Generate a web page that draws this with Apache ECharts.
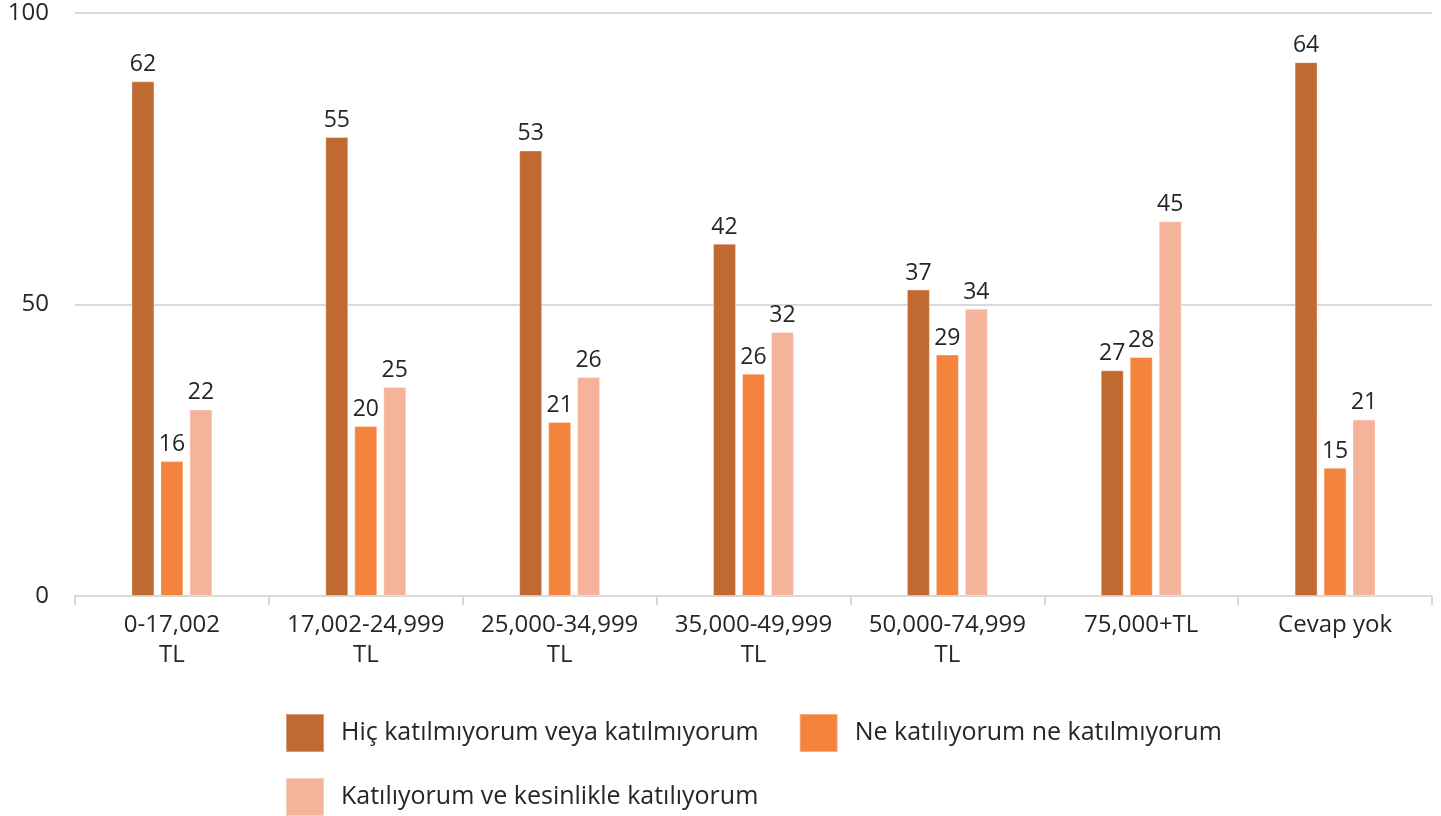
<!DOCTYPE html>
<html>
<head>
<meta charset="utf-8">
<script src="https://cdn.jsdelivr.net/npm/echarts@6/dist/echarts.min.js"></script>
<style>
  html, body { margin: 0; padding: 0; background: #fff; }
  #chart { width: 1441px; height: 816px; }
</style>
</head>
<body>
<div id="chart"></div>
<script>
const categories = ["0-17,002\nTL", "17,002-24,999\nTL", "25,000-34,999\nTL", "35,000-49,999\nTL", "50,000-74,999\nTL", "75,000+TL", "Cevap yok"];
const seriesNames = ["Hiç katılmıyorum veya katılmıyorum", "Ne katılıyorum ne katılmıyorum", "Katılıyorum ve kesinlikle katılıyorum"];

// bar heights as measured in the picture
const disagree = [61.8, 55.1, 53.5, 42.3, 36.8, 27.1, 64.1];
const neutral = [16.2, 20.4, 20.9, 26.7, 29.0, 28.7, 15.4];
const agree = [22.4, 25.1, 26.3, 31.7, 34.5, 45.0, 21.2];

// numbers printed above the bars
const disagreeLabels = [62, 55, 53, 42, 37, 27, 64];
const neutralLabels = [16, 20, 21, 26, 29, 28, 15];
const agreeLabels = [22, 25, 26, 32, 34, 45, 21];

const colors = ["#C06A31", "#F4843D", "#F5B39B"];

// the picture's axis reads 0/50/100 but the bars are scaled to a 0-70 range
const axisMax = 70;
const axisLabelScale = 100 / axisMax;

const font = "'Open Sans', sans-serif";
const textColor = "#262626";

const chart = echarts.init(document.getElementById("chart"));

function barSeries(name, data, labels, color) {
  return {
    name: name,
    type: "bar",
    data: data,
    barWidth: 23,
    barGap: "26%",
    itemStyle: { color: color, borderColor: "rgba(255,255,255,0.35)", borderWidth: 1 },
    label: {
      show: true,
      position: "top",
      distance: 5,
      fontFamily: font,
      fontSize: 23,
      color: textColor,
      formatter: p => String(labels[p.dataIndex])
    }
  };
}

const legendText = { fontFamily: font, fontSize: 25, color: textColor, padding: [0, 0, 0, 12] };

chart.setOption({
  animation: false,
  textStyle: { fontFamily: font },
  grid: { left: 75, right: 9, top: 13, bottom: 220 },
  legend: [
    {
      data: [seriesNames[0], seriesNames[1]],
      left: 285, top: 713, padding: 0,
      itemWidth: 38, itemHeight: 38, itemGap: 40,
      icon: "rect",
      textStyle: legendText
    },
    {
      data: [seriesNames[2]],
      left: 285, top: 777, padding: 0,
      itemWidth: 38, itemHeight: 38,
      icon: "rect",
      textStyle: legendText
    }
  ],
  xAxis: {
    type: "category",
    data: categories,
    axisLine: { lineStyle: { color: "#d9d9d9", width: 2 } },
    axisTick: { show: true, length: 9, lineStyle: { color: "#d9d9d9", width: 2 } },
    axisLabel: {
      fontFamily: font,
      fontSize: 24,
      lineHeight: 30,
      color: textColor,
      margin: 14,
      interval: 0
    }
  },
  yAxis: {
    type: "value",
    min: 0,
    max: axisMax,
    interval: 35,
    axisLine: { show: false },
    axisTick: { show: false },
    splitLine: { lineStyle: { color: "#d9d9d9", width: 2 } },
    axisLabel: {
      fontFamily: font,
      fontSize: 24,
      color: textColor,
      margin: 26,
      formatter: v => String(Math.round(v * axisLabelScale))
    }
  },
  series: [
    barSeries(seriesNames[0], disagree, disagreeLabels, colors[0]),
    barSeries(seriesNames[1], neutral, neutralLabels, colors[1]),
    barSeries(seriesNames[2], agree, agreeLabels, colors[2])
  ]
});
</script>
</body>
</html>
